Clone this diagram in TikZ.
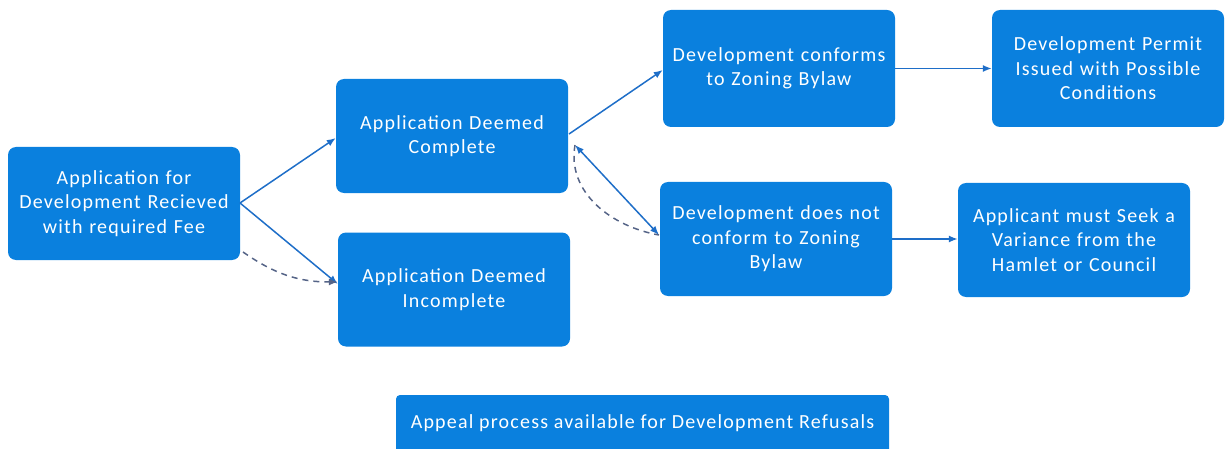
\documentclass[tikz,border=0pt]{standalone}
\usepackage{fontspec}
\setmainfont{Carlito}[LetterSpace=6]
\usetikzlibrary{arrows.meta}
\definecolor{boxblue}{RGB}{10,128,222}
\definecolor{linkblue}{RGB}{30,110,200}
\definecolor{dashgray}{RGB}{85,100,135}
\tikzset{
  stepbox/.style={fill=boxblue, draw=none, rounded corners=8pt, minimum width=232pt, minimum height=114pt, text width=228pt, align=center, text=white, font=\fontsize{20}{24.5}\selectfont, inner sep=0pt},
  link/.style={draw=linkblue, line width=1.5pt, -{Latex[length=9pt,width=7pt]}},
  dlink/.style={draw=dashgray, line width=1.5pt, dash pattern=on 6pt off 5pt, -{Latex[length=9pt,width=7pt]}}
}
\begin{document}
\begin{tikzpicture}[x=1pt,y=-1pt]
\useasboundingbox (0,0) rectangle (1225,449);
\node[stepbox, minimum height=113pt] (A) at (124,203.5) {Application for\\Development Recieved\\with required Fee};
\node[stepbox] (B) at (452,136) {Application Deemed\\Complete\\[10pt]};
\node[stepbox] (C) at (454,289.5) {Application Deemed\\Incomplete};
\node[stepbox, minimum height=117pt] (D) at (779,68.5) {Development conforms\\to Zoning Bylaw\\[10pt]};
\node[stepbox] (E) at (776,239) {Development does not\\conform to Zoning\\Bylaw};
\node[stepbox, minimum height=117pt] (F) at (1108,68.5) {Development Permit\\Issued with Possible\\Conditions\\[6pt]};
\node[stepbox] (G) at (1074,240) {Applicant must Seek a\\Variance from the\\Hamlet or Council};
\node[stepbox, minimum width=493pt, text width=490pt, minimum height=64pt, rounded corners=4pt] (H) at (642.5,427) {};
\node[text=white, font=\fontsize{20}{24}\selectfont] (Ht) at (642.5,423) {Appeal process available for Development Refusals};
\coordinate (Aout) at (240,203);
\coordinate (Adash) at (243,252);
\coordinate (Bout) at (569,134);
\coordinate (Bin) at (575,145);
\coordinate (Ein) at (659,235);
\draw[link] (Aout) -- (B.west |- 0,138);
\draw[link] (Aout) -- (C.west |- 0,284);
\draw[dlink] (Adash) to[out=-35,in=180] (C.west |- 0,282);
\draw[link] (Bout) -- (D.west |- 0,70);
\draw[link, {Latex[length=9pt,width=7pt]}-{Latex[length=9pt,width=7pt]}] (Bin) -- (Ein);
\draw[dlink, -] (Bin) to[out=-100,in=170] (Ein);
\draw[link] (D.east) -- (F.west |- D.east);
\draw[link] (E.east) -- (G.west |- E.east);
\end{tikzpicture}
\end{document}
